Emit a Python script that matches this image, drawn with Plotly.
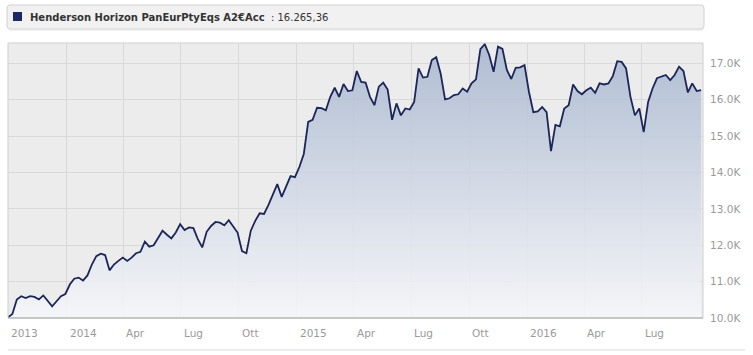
import plotly.graph_objects as go
import pandas as pd

# ---- data (weekly NAV, in units of 1000) ----
start_date = "2013-09-30"
values_k = [
    10.02, 10.11, 10.51, 10.60, 10.55, 10.60, 10.58, 10.51, 10.62, 10.46,
    10.32, 10.46, 10.60, 10.66, 10.92, 11.08, 11.11, 11.03, 11.17, 11.47,
    11.70, 11.77, 11.73, 11.31, 11.47, 11.57, 11.66, 11.57, 11.66, 11.78,
    11.82, 12.10, 11.96, 12.00, 12.21, 12.40, 12.29, 12.19, 12.35, 12.58,
    12.42, 12.49, 12.47, 12.17, 11.94, 12.37, 12.53, 12.64, 12.62, 12.55,
    12.69, 12.51, 12.35, 11.84, 11.78, 12.40, 12.67, 12.88, 12.86, 13.11,
    13.39, 13.68, 13.33, 13.64, 13.90, 13.87, 14.15, 14.51, 15.39, 15.45,
    15.78, 15.77, 15.71, 16.08, 16.33, 16.08, 16.43, 16.24, 16.26, 16.79,
    16.49, 16.47, 16.08, 15.85, 16.36, 16.47, 16.28, 15.45, 15.90, 15.57,
    15.76, 15.73, 15.94, 16.86, 16.61, 16.63, 17.09, 17.17, 16.72, 16.01,
    16.04, 16.13, 16.15, 16.31, 16.22, 16.45, 16.56, 17.39, 17.53, 17.23,
    16.77, 17.46, 17.40, 16.82, 16.57, 16.88, 16.89, 16.95, 16.22, 15.66,
    15.68, 15.80, 15.66, 14.59, 15.31, 15.27, 15.76, 15.85, 16.42, 16.24,
    16.15, 16.26, 16.33, 16.19, 16.45, 16.42, 16.45, 16.65, 17.06, 17.04,
    16.86, 16.08, 15.57, 15.76, 15.11, 15.94, 16.31, 16.59, 16.63, 16.68,
    16.54, 16.68, 16.91, 16.79, 16.20, 16.45, 16.24, 16.26536,
]
dates = pd.date_range(start_date, periods=len(values_k), freq="7D")
values = [v * 1000 for v in values_k]

series_name = "Henderson Horizon PanEurPtyEqs A2€Acc"
last_value_text = "16.265,36"

y_tickvals = [10000, 11000, 12000, 13000, 14000, 15000, 16000, 17000]
y_ticktext = ["10.0K", "11.0K", "12.0K", "13.0K", "14.0K", "15.0K", "16.0K", "17.0K"]

x_grid_dates = ["2014-01-01", "2014-04-01", "2014-07-01", "2014-10-01", "2015-01-01",
                "2015-04-01", "2015-07-01", "2015-10-01", "2016-01-01", "2016-04-01",
                "2016-07-01"]
x_label_dates = ["2013-09-30"] + x_grid_dates
x_labels = ["2013", "2014", "Apr", "Lug", "Ott", "2015", "Apr", "Lug", "Ott", "2016", "Apr", "Lug"]

# ---- layout geometry ----
W, H = 753, 355
L, R, T, B = 8, 703, 43, 318
def px(x):
    return (x - L) / (R - L)
def py(y):
    return (B - y) / (B - T)

FONT = "DejaVu Sans, Verdana, sans-serif"

fig = go.Figure()
fig.add_trace(go.Scatter(
    x=dates, y=values, mode="lines",
    line=dict(color="#1b2658", width=1.8),
    fill="tozeroy",
    fillgradient=dict(
        type="vertical",
        colorscale=[[0, "rgba(246,247,250,0.86)"], [1, "rgba(166,181,206,0.86)"]],
        start=10000, stop=17500,
    ),
    hoverinfo="skip", showlegend=False,
))

annotations = []
for d, t in zip(x_label_dates, x_labels):
    annotations.append(dict(
        x=d, xref="x", y=py(332.5), yref="paper", text=t, showarrow=False,
        xanchor="left", yanchor="middle", xshift=1,
        font=dict(family=FONT, size=10.5, color="#9a9a9a"),
    ))
annotations.append(dict(
    x=px(28), xref="paper", y=py(17), yref="paper", showarrow=False,
    xanchor="left", yanchor="middle",
    text=f"<b>{series_name}</b>&nbsp; : {last_value_text}",
    font=dict(family=FONT, size=10, color="#333333"),
))

# rounded header box
x0, x1, y0, y1, r = px(7), px(704), py(5), py(29), 3
rx, ry = r / (R - L), r / (B - T)
box_path = (f"M {x0+rx},{y0} L {x1-rx},{y0} Q {x1},{y0} {x1},{y0-ry} "
            f"L {x1},{y1+ry} Q {x1},{y1} {x1-rx},{y1} L {x0+rx},{y1} "
            f"Q {x0},{y1} {x0},{y1+ry} L {x0},{y0-ry} Q {x0},{y0} {x0+rx},{y0} Z")

shapes = [
    dict(type="path", xref="paper", yref="paper", path=box_path,
         fillcolor="#f1f1f1", line=dict(color="#d2d2d2", width=1), layer="above"),
    dict(type="line", xref="paper", yref="paper", x0=px(9), x1=px(703), y0=py(30), y1=py(30),
         line=dict(color="#e2e2e2", width=1)),
    dict(type="rect", xref="paper", yref="paper", x0=px(13), x1=px(22), y0=py(12), y1=py(21),
         fillcolor="#1b2a66", line=dict(width=0)),
    dict(type="rect", xref="paper", yref="paper", x0=0, x1=1, y0=0, y1=1,
         line=dict(color="#cfcfcf", width=1), layer="above"),
    dict(type="line", xref="paper", yref="paper", x0=0, x1=1, y0=0, y1=0,
         line=dict(color="#a9a9a9", width=1), layer="above"),
    dict(type="line", xref="paper", yref="paper", x0=px(8), x1=px(745), y0=py(350), y1=py(350),
         line=dict(color="#dcdcdc", width=1)),
]

fig.update_layout(
    width=W, height=H,
    margin=dict(l=L, r=W - R, t=T, b=H - B, pad=0),
    paper_bgcolor="white", plot_bgcolor="#ececec",
    xaxis=dict(
        range=[dates[0], pd.Timestamp("2016-10-06")],
        tickvals=x_grid_dates, showticklabels=False, ticks="",
        showgrid=True, gridcolor="#d9d9d9", gridwidth=1,
        zeroline=False, showline=False, fixedrange=True,
    ),
    yaxis=dict(
        side="right", range=[10000, 17560],
        tickvals=y_tickvals, ticktext=y_ticktext, ticks="",
        ticklabelstandoff=6,
        showgrid=True, gridcolor="#d9d9d9", gridwidth=1,
        zeroline=False, showline=False,
        tickfont=dict(family=FONT, size=10.5, color="#9a9a9a"),
        fixedrange=True,
    ),
    annotations=annotations, shapes=shapes,
)

fig.write_html("out.html")
